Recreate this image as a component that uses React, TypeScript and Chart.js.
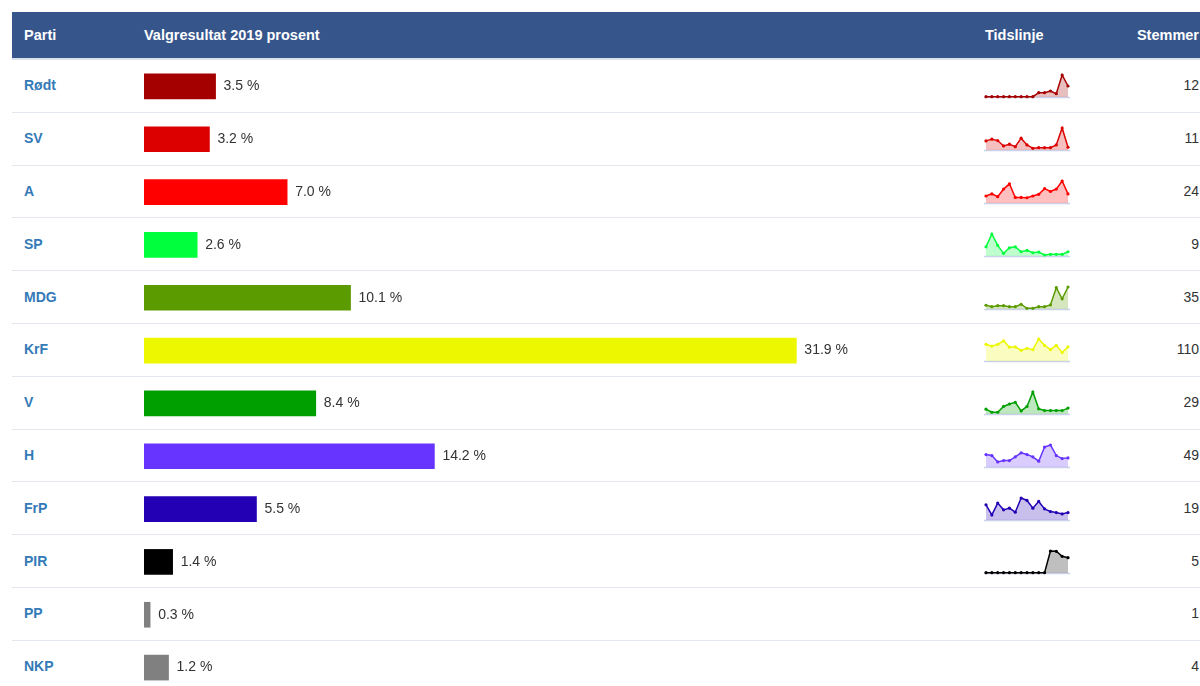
import React, { useEffect, useRef } from 'react';
import Chart from 'chart.js/auto';

const FONT = "'Liberation Sans', Arial, Helvetica, sans-serif";

// ---- data ----
const PARTIES = ['Rødt', 'SV', 'A', 'SP', 'MDG', 'KrF', 'V', 'H', 'FrP', 'PIR', 'PP', 'NKP'];
const RESULT_2019 = [3.5, 3.2, 7.0, 2.6, 10.1, 31.9, 8.4, 14.2, 5.5, 1.4, 0.3, 1.2];
const VOTES = [12, 11, 24, 9, 35, 110, 29, 49, 19, 5, 1, 4];
const COLORS = ['#a50000', '#dc0000', '#ff0000', '#00ff3c', '#5b9b00', '#ecf700', '#009f00', '#6633ff', '#2400b4', '#000000', '#808080', '#808080'];
const YEARS = ['1991', '1993', '1995', '1997', '1999', '2001', '2003', '2005', '2007', '2009', '2011', '2013', '2015', '2017', '2019'];

const TL_RODT = [0.3, 0.3, 0.3, 0.3, 0.3, 0.3, 0.3, 0.3, 0.3, 4.3, 4.3, 6.0, 3.3, 22.0, 11.0];
const TL_SV = [9.0, 10.7, 9.3, 4.0, 5.7, 3.3, 11.7, 5.0, 1.7, 2.3, 2.3, 2.3, 5.0, 21.7, 2.7];
const TL_A = [6.7, 8.7, 6.0, 13.3, 18.3, 5.3, 5.3, 5.0, 6.7, 8.3, 13.7, 11.0, 13.3, 21.0, 8.7];
const TL_SP = [9.3, 22.3, 10.7, 2.7, 8.3, 9.3, 4.3, 5.7, 3.3, 4.0, 1.0, 1.7, 1.7, 1.7, 4.3];
const TL_MDG = [3.7, 2.3, 3.3, 3.3, 2.3, 2.3, 4.7, 0.7, 0.7, 2.3, 2.3, 4.0, 21.0, 10.0, 21.7];
const TL_KRF = [15.7, 14.0, 15.7, 19.0, 13.0, 13.3, 10.0, 12.0, 10.7, 20.7, 14.7, 10.7, 14.7, 8.0, 13.3];
const TL_V = [4.7, 1.7, 1.7, 7.3, 9.7, 11.3, 3.0, 7.3, 21.3, 5.0, 3.3, 3.3, 3.3, 3.3, 5.7];
const TL_H = [12.3, 11.3, 5.0, 6.3, 6.3, 10.0, 14.0, 12.3, 10.0, 5.7, 19.7, 21.7, 11.3, 8.3, 9.0];
const TL_FRP = [15.0, 5.0, 16.7, 10.0, 11.7, 7.7, 21.7, 19.3, 11.7, 18.3, 11.0, 8.3, 7.3, 6.0, 7.3];
const TL_PIR = [0.3, 0.3, 0.3, 0.3, 0.3, 0.3, 0.3, 0.3, 0.3, 0.3, 0.3, 22.0, 21.7, 16.7, 15.3];

const TIMELINES: (number[] | null)[] = [TL_RODT, TL_SV, TL_A, TL_SP, TL_MDG, TL_KRF, TL_V, TL_H, TL_FRP, TL_PIR, null, null];

// ---- layout ----
const ROW_TOP = 60;
const ROW_H = 52.8;

function withAlpha(hex: string, a: number) {
  const n = parseInt(hex.slice(1), 16);
  return `rgba(${(n >> 16) & 255},${(n >> 8) & 255},${n & 255},${a})`;
}

const valueLabels = {
  id: 'valueLabels',
  afterDatasetsDraw(chart: any) {
    const { ctx } = chart;
    const meta = chart.getDatasetMeta(0);
    const vals = chart.data.datasets[0].data as number[];
    ctx.save();
    ctx.font = `14px ${FONT}`;
    ctx.fillStyle = '#333';
    ctx.textAlign = 'left';
    ctx.textBaseline = 'middle';
    meta.data.forEach((bar: any, i: number) => {
      ctx.fillText(`${vals[i].toFixed(1)} %`, bar.x + 8, bar.y);
    });
    ctx.restore();
  },
};

const baseline = {
  id: 'baseline',
  beforeDatasetsDraw(chart: any) {
    const { ctx, chartArea, scales } = chart;
    const y = scales.y.getPixelForValue(0);
    ctx.save();
    ctx.strokeStyle = '#c9d2ea';
    ctx.lineWidth = 1.5;
    ctx.beginPath();
    ctx.moveTo(chartArea.left - 2, y + 0.5);
    ctx.lineTo(chartArea.right + 2, y + 0.5);
    ctx.stroke();
    ctx.restore();
  },
};

function BarChart() {
  const ref = useRef<HTMLCanvasElement>(null);
  useEffect(() => {
    const chart = new Chart(ref.current!, {
      type: 'bar',
      data: {
        labels: PARTIES,
        datasets: [{ data: RESULT_2019, backgroundColor: COLORS, borderWidth: 0, barThickness: 25 }],
      },
      options: {
        indexAxis: 'y',
        responsive: false,
        maintainAspectRatio: false,
        animation: false,
        layout: { padding: 0 },
        plugins: { legend: { display: false }, tooltip: { enabled: false } },
        scales: {
          x: { display: false, min: 0, max: 40 },
          y: { display: false },
        },
      },
      plugins: [valueLabels],
    } as any);
    return () => chart.destroy();
  }, []);
  return (
    <canvas
      ref={ref}
      width={818}
      height={634}
      style={{ position: 'absolute', left: 144, top: ROW_TOP, width: 818, height: 634 }}
    />
  );
}

function Spark({ data, color, index }: { data: number[]; color: string; index: number }) {
  const ref = useRef<HTMLCanvasElement>(null);
  useEffect(() => {
    const chart = new Chart(ref.current!, {
      type: 'line',
      data: {
        labels: YEARS,
        datasets: [
          {
            data,
            borderColor: color,
            backgroundColor: withAlpha(color, 0.25),
            fill: 'origin',
            borderWidth: 1.5,
            tension: 0,
            pointRadius: 1.6,
            pointBorderWidth: 0,
            pointBackgroundColor: color,
            clip: false,
          },
        ],
      },
      options: {
        responsive: false,
        maintainAspectRatio: false,
        animation: false,
        layout: { padding: { left: 4, right: 4, top: 5, bottom: 5 } },
        plugins: { legend: { display: false }, tooltip: { enabled: false } },
        scales: {
          x: { display: false },
          y: { display: false, min: 0, max: Math.max(...data) },
        },
      },
      plugins: [baseline],
    } as any);
    return () => chart.destroy();
  }, [data, color]);
  const top = ROW_TOP + index * ROW_H + ROW_H / 2 - 16;
  return (
    <canvas
      ref={ref}
      width={90}
      height={32}
      style={{ position: 'absolute', left: 982, top, width: 90, height: 32 }}
    />
  );
}

const headerText: React.CSSProperties = {
  position: 'absolute',
  top: 12,
  height: 46,
  display: 'flex',
  alignItems: 'center',
  color: '#fff',
  fontWeight: 'bold',
  fontSize: 14.5,
  whiteSpace: 'nowrap',
};

export default function App() {
  return (
    <div
      style={{
        position: 'fixed',
        inset: 0,
        overflow: 'hidden',
        background: '#fff',
        fontFamily: FONT,
      }}
    >
      {/* header */}
      <div style={{ position: 'absolute', left: 12, top: 12, width: 1220, height: 46, background: '#36558b' }} />
      <div style={{ position: 'absolute', left: 12, top: 58, width: 1220, height: 2, background: '#dbe1ec' }} />
      <div style={{ ...headerText, left: 24 }}>Parti</div>
      <div style={{ ...headerText, left: 144 }}>Valgresultat 2019 prosent</div>
      <div style={{ ...headerText, left: 985 }}>Tidslinje</div>
      <div style={{ ...headerText, left: 1100, width: 99, justifyContent: 'flex-end' }}>Stemmer</div>

      {/* row separators */}
      {PARTIES.slice(0, PARTIES.length - 1).map((_, i) => (
        <div
          key={'sep' + i}
          style={{
            position: 'absolute',
            left: 12,
            top: Math.round(ROW_TOP + (i + 1) * ROW_H) - 1,
            width: 1220,
            height: 1,
            background: '#e3e7ee',
          }}
        />
      ))}

      {/* party names and votes */}
      {PARTIES.map((p, i) => (
        <React.Fragment key={p}>
          <div
            style={{
              position: 'absolute',
              left: 24,
              top: ROW_TOP + i * ROW_H - 1,
              height: ROW_H,
              display: 'flex',
              alignItems: 'center',
              color: '#337ab7',
              fontWeight: 'bold',
              fontSize: 14,
            }}
          >
            {p}
          </div>
          <div
            style={{
              position: 'absolute',
              left: 1100,
              width: 99,
              top: ROW_TOP + i * ROW_H - 1,
              height: ROW_H,
              display: 'flex',
              alignItems: 'center',
              justifyContent: 'flex-end',
              color: '#333',
              fontSize: 14,
            }}
          >
            {VOTES[i]}
          </div>
        </React.Fragment>
      ))}

      <BarChart />

      {TIMELINES.map((tl, i) =>
        tl ? <Spark key={'sp' + i} data={tl} color={COLORS[i]} index={i} /> : null
      )}
    </div>
  );
}
